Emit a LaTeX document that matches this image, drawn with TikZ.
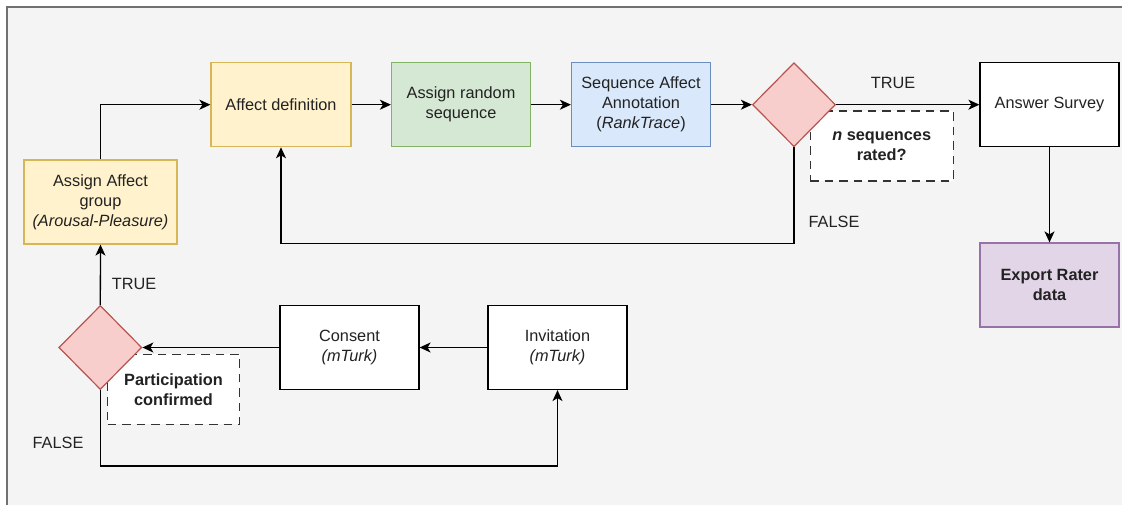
\documentclass[tikz,border=0pt]{standalone}
\usepackage{fontspec}
\setmainfont{Liberation Sans}
\usetikzlibrary{shapes.geometric,arrows.meta}

\definecolor{panelbg}{HTML}{F4F4F4}
\definecolor{panelline}{HTML}{707070}
\definecolor{txt}{HTML}{222222}
\definecolor{yelfill}{HTML}{FFF2CC}
\definecolor{yelline}{HTML}{D6B656}
\definecolor{grnfill}{HTML}{D5E8D4}
\definecolor{grnline}{HTML}{82B366}
\definecolor{blufill}{HTML}{DAE8FC}
\definecolor{bluline}{HTML}{6C8EBF}
\definecolor{redfill}{HTML}{F8CECC}
\definecolor{redline}{HTML}{B85450}
\definecolor{purfill}{HTML}{E1D5E7}
\definecolor{purline}{HTML}{9673A6}

\tikzset{
  lbl/.style={font=\fontsize{16.3}{20}\selectfont, text=txt},
  box/.style={lbl, draw, line width=1.2pt, align=center, inner sep=0pt,
              minimum width=139pt, minimum height=84pt},
  yelbox/.style={box, fill=yelfill, draw=yelline},
  grnbox/.style={box, fill=grnfill, draw=grnline},
  blubox/.style={box, fill=blufill, draw=bluline},
  purbox/.style={box, fill=purfill, draw=purline},
  whtbox/.style={box, fill=white, draw=black},
  notebox/.style={lbl, draw=black!80, fill=white, dash pattern=on 8.5pt off 6pt,
              line width=1.2pt, align=center, inner sep=0pt, font=\fontsize{16.3}{20}\selectfont\bfseries},
  decision/.style={diamond, draw=redline, fill=redfill, line width=1.2pt,
              inner sep=0pt, minimum width=83pt, minimum height=84pt},
  conn/.style={draw=black, line width=1.3pt, -{Stealth[length=11pt,width=10pt,inset=3pt]}},
}

\begin{document}
\begin{tikzpicture}[x=1pt,y=-1pt]
\useasboundingbox (0,0) rectangle (1122,505);

% panel
\fill[white] (0,0) rectangle (1122,505);
\fill[panelbg] (7,7) rectangle (1122,505);
\draw[panelline, line width=1.3pt] (7,505) -- (7,7) -- (1122,7);

% side notes under the decisions
\node[notebox, minimum width=143pt, minimum height=70pt] (note1) at (881.7,146)
  {\textit{n} sequences\\rated?};
\node[notebox, minimum width=132pt, minimum height=70pt] (note2) at (173.5,389.2)
  {Participation\\confirmed};

% process steps
\node[yelbox, minimum width=153pt] (agroup) at (100.5,202)
  {Assign Affect\\group\\\textit{(Arousal-Pleasure)}};
\node[yelbox, minimum width=140pt] (affdef) at (281,104.7) {Affect definition};
\node[grnbox] (arseq) at (461,104.7) {Assign random\\sequence};
\node[blubox] (seqann) at (641,104.7) {Sequence Affect\\Annotation\\(\textit{RankTrace})};
\node[whtbox] (survey) at (1049.5,104.7) {Answer Survey};
\node[purbox, font=\fontsize{16.3}{20}\selectfont\bfseries] (export) at (1049.5,285) {Export Rater\\data};
\node[whtbox] (consent) at (349.5,347.5) {Consent\\\textit{(mTurk)}};
\node[whtbox] (invite) at (557.5,347.5) {Invitation\\\textit{(mTurk)}};

% decisions
\node[decision] (d1) at (794,104.7) {};
\node[decision] (d2) at (100.3,347.5) {};

% branch labels
\node[lbl] (t1) at (893,83) {TRUE};
\node[lbl] (f1) at (834,222) {FALSE};
\node[lbl] (t2) at (134,284) {TRUE};
\node[lbl] (f2) at (58,443) {FALSE};

% connectors
\draw[conn] (agroup.north) |- (affdef.west);
\draw[conn] (affdef) -- (arseq);
\draw[conn] (arseq) -- (seqann);
\draw[conn] (seqann) -- (d1.west);
\draw[conn] (d1.east) -- (survey.west);
\draw[conn] (d1.south) -- ++(0,96.5) -| (affdef.south);
\draw[conn] (survey) -- (export);
\draw[conn] (invite) -- (consent);
\draw[conn] (consent.west) -- (d2.east);
\draw[conn] (d2.north) -- (agroup.south);
\draw[conn] (d2.south) -- ++(0,76) -| (invite.south);
\end{tikzpicture}
\end{document}
